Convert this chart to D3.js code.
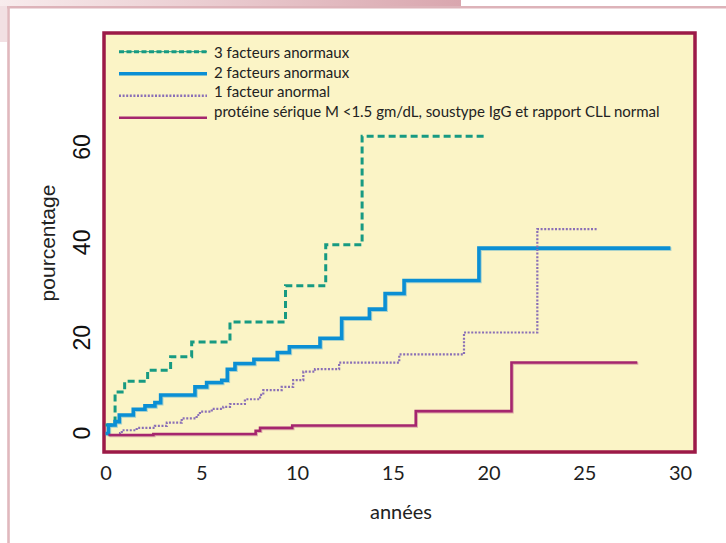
<!DOCTYPE html>
<html><head><meta charset="utf-8">
<script src="https://cdn.jsdelivr.net/npm/d3@7"></script>
<style>body{margin:0;background:#fff;overflow:hidden}</style>
</head><body><svg id="c" width="726" height="543"></svg>
<script>
// ---- data ----
const xTicks = [0, 5, 10, 15, 20, 25, 30];
const yTicks = [0, 20, 40, 60];
const seriesNames = [
  "3 facteurs anormaux",
  "2 facteurs anormaux",
  "1 facteur anormal",
  "protéine sérique M <1.5 gm/dL, soustype IgG et rapport CLL normal"
];
// [years, percent] step points
const s3facteurs = [[0,2.1],[0.5,9.0],[1.0,11.3],[2.2,13.6],[3.4,16.4],[4.5,19.5],[6.5,23.7],[9.4,31.3],[11.5,39.9],[13.4,62.7],[19.8,62.7]];
const s2facteurs = [[0,0.3],[0.15,2.1],[0.5,2.8],[0.72,4.2],[1.45,5.4],[2.06,6.1],[2.58,6.8],[2.88,8.4],[4.67,10.1],[5.28,11.0],[6.07,11.5],[6.36,13.8],[6.76,15.0],[7.75,15.9],[8.97,17.3],[9.6,18.5],[11.2,20.3],[12.33,24.5],[13.78,26.4],[14.6,29.7],[15.59,32.4],[19.5,39.2],[29.5,39.2]];
const s1facteur = [[0.2,0],[0.76,0.4],[0.85,1.0],[1.63,1.5],[2.58,1.9],[3.2,2.6],[3.98,3.5],[4.76,4.2],[4.93,4.9],[5.55,5.5],[6.15,5.9],[6.5,6.5],[7.28,7.5],[8.07,8.4],[8.24,9.4],[9.2,10.1],[9.8,11.5],[10.33,13.3],[10.94,13.8],[12.2,15.2],[15.34,16.9],[18.72,21.5],[22.55,43.2],[25.73,43.2]];
const sProteine = [[0.15,0],[2.5,0.2],[7.84,0.9],[8.07,1.5],[9.75,2.0],[16.2,5.0],[21.2,15.2],[27.77,15.2]];

// ---- layout / style ----
const svg = d3.select("#c");
const colors = ["#179a82", "#0b8fd4", "#8a6fb6", "#a5266e"];
const box = {x0: 104, y0: 33, x1: 695, y1: 452};
const x = d3.scaleLinear().domain([0, 30]).range([105.5, 680]);
const y = d3.scaleLinear().domain([0, 60]).range([435, 149]);

// page decoration
const defs = svg.append("defs");
const g1 = defs.append("linearGradient").attr("id", "topg").attr("x1", 0).attr("x2", 1);
g1.append("stop").attr("offset", 0).attr("stop-color", "#f8eced");
g1.append("stop").attr("offset", 1).attr("stop-color", "#d9a6ae");
svg.append("rect").attr("x", 0).attr("y", 0).attr("width", 461).attr("height", 6).attr("fill", "url(#topg)");
svg.append("rect").attr("x", 0).attr("y", 6).attr("width", 7).attr("height", 36).attr("fill", "#f2e0e3");
svg.append("line").attr("x1", 7).attr("x2", 726).attr("y1", 7.2).attr("y2", 7.2).attr("stroke", "#ddb3b9").attr("stroke-width", 2.6);
svg.append("line").attr("x1", 8.5).attr("x2", 8.5).attr("y1", 6).attr("y2", 543).attr("stroke", "#e0b8bd").attr("stroke-width", 2.6);

// plot box
svg.append("rect").attr("x", box.x0).attr("y", box.y0)
  .attr("width", box.x1 - box.x0).attr("height", box.y1 - box.y0)
  .attr("fill", "#fbf4c6").attr("stroke", "#9c1a47").attr("stroke-width", 3.5);

// axes
const xAxis = svg.append("g").attr("transform", "translate(0,466)")
  .call(d3.axisBottom(x).tickValues(xTicks).tickSize(0).tickPadding(0));
xAxis.select(".domain").remove();
xAxis.selectAll("text").attr("font-family", "Lato, sans-serif").attr("font-size", 20)
  .attr("fill", "#1e1e1e").attr("dy", "0.71em");

const yAxis = svg.append("g").attr("transform", "translate(90,0)")
  .call(d3.axisLeft(y).tickValues(yTicks).tickSize(0).tickPadding(0));
yAxis.select(".domain").remove();
yAxis.selectAll("text")
  .attr("font-family", "'Liberation Sans Narrow', 'Liberation Sans', sans-serif")
  .attr("font-size", 23).attr("fill", "#111")
  .attr("text-anchor", "middle").attr("x", 0).attr("dy", 0)
  .attr("transform", d => `translate(0,${y(d) - 2}) rotate(-90)`)
  .attr("y", 0);
yAxis.selectAll(".tick").attr("transform", null);

svg.append("text").attr("transform", "translate(55,243) rotate(-90)")
  .attr("text-anchor", "middle").attr("font-family", "'Liberation Sans', sans-serif")
  .attr("font-size", 21).attr("fill", "#222").text("pourcentage");
svg.append("text").attr("x", 401).attr("y", 519)
  .attr("text-anchor", "middle").attr("font-family", "Lato, sans-serif")
  .attr("font-size", 20).attr("fill", "#222").text("années");

// lines
const line = d3.line().x(d => x(d[0])).y(d => y(d[1])).curve(d3.curveStepAfter);
const series = [s3facteurs, s2facteurs, s1facteur, sProteine];
const widths = [3, 3.6, 2.2, 2.6];
const dashes = ["7,4", null, "2,1.6", null];
const plot = svg.append("g");
series.forEach((s, i) => {
  if (i === 1 || i === 3) {
    plot.append("path").attr("d", line(s)).attr("fill", "none")
      .attr("stroke", colors[i]).attr("stroke-opacity", 0.35)
      .attr("stroke-width", widths[i]).attr("transform", "translate(1,1)");
  }
  plot.append("path").attr("d", line(s)).attr("fill", "none")
    .attr("stroke", colors[i]).attr("stroke-width", widths[i])
    .attr("stroke-dasharray", dashes[i]);
});

// legend
const leg = svg.append("g");
seriesNames.forEach((name, i) => {
  const ly = 51.7 + i * 22;
  const ty = 52.7 + i * 19.7;
  if (i === 0) {
    leg.append("line").attr("x1", 119).attr("x2", 207).attr("y1", ly).attr("y2", ly)
      .attr("stroke", colors[i]).attr("stroke-width", 1);
  }
  leg.append("line").attr("x1", 119).attr("x2", 207).attr("y1", ly).attr("y2", ly)
    .attr("stroke", colors[i]).attr("stroke-width", widths[i] + (i === 2 ? 0.3 : 0))
    .attr("stroke-dasharray", i === 0 ? "5,2.5" : dashes[i]);
  leg.append("text").attr("x", 214).attr("y", ty).attr("dy", "0.35em")
    .attr("font-family", "Lato, sans-serif").attr("font-size", 15).attr("fill", "#222")
    .text(name);
});
</script></body></html>
